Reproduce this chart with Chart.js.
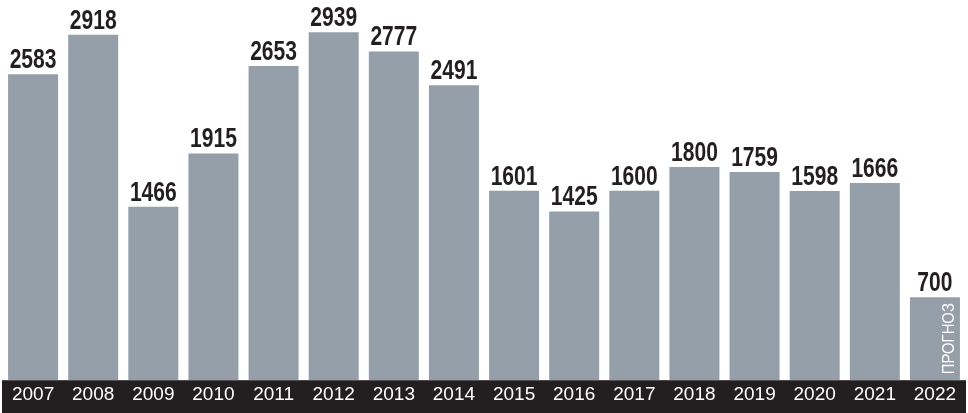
<!DOCTYPE html>
<html>
<head>
<meta charset="utf-8">
<script src="https://cdn.jsdelivr.net/npm/chart.js@4.4.0/dist/chart.umd.min.js"></script>
<style>
html,body{margin:0;padding:0;background:#fff;}
#wrap{width:968px;height:413px;position:relative;}
</style>
</head>
<body>
<div id="wrap"><canvas id="c" width="968" height="413"></canvas></div>
<script>
const years = ['2007','2008','2009','2010','2011','2012','2013','2014','2015','2016','2017','2018','2019','2020','2021','2022'];
const values = [2583,2918,1466,1915,2653,2939,2777,2491,1601,1425,1600,1800,1759,1598,1666,700];
const forecastNote = 'ПРОГНОЗ';

const BAR = '#949fa9';
const DARK = '#231f20';
const LABEL_FONT = 'bold 27px "Liberation Sans", Arial, sans-serif';
const LABEL_SQUEEZE = 0.78;

const decor = {
  id: 'decor',
  beforeDraw(chart) {
    const ctx = chart.ctx;
    const a = chart.chartArea;
    ctx.save();
    ctx.fillStyle = DARK;
    ctx.fillRect(2, a.bottom, chart.width - 4, chart.height - a.bottom);
    ctx.restore();
  },
  afterDatasetsDraw(chart) {
    const ctx = chart.ctx;
    const meta = chart.getDatasetMeta(0);
    meta.data.forEach((bar, i) => {
      ctx.save();
      ctx.translate(bar.x, bar.y - 6);
      ctx.scale(LABEL_SQUEEZE, 1);
      ctx.font = LABEL_FONT;
      ctx.fillStyle = DARK;
      ctx.textAlign = 'center';
      ctx.textBaseline = 'alphabetic';
      ctx.fillText(String(values[i]), 0, 0);
      ctx.restore();
    });
    // forecast note in last bar
    const last = meta.data[meta.data.length - 1];
    ctx.save();
    ctx.translate(last.x + 19, chart.chartArea.bottom - 6);
    ctx.rotate(-Math.PI / 2);
    ctx.scale(0.9, 1);
    ctx.font = '16.5px "Liberation Sans", Arial, sans-serif';
    ctx.fillStyle = '#ffffff';
    ctx.textAlign = 'left';
    ctx.textBaseline = 'alphabetic';
    ctx.fillText(forecastNote, 0, 0);
    ctx.restore();
  }
};

new Chart(document.getElementById('c'), {
  type: 'bar',
  data: {
    labels: years,
    datasets: [{
      data: values,
      backgroundColor: BAR,
      borderWidth: 0,
      barPercentage: 0.8315,
      categoryPercentage: 1.0
    }]
  },
  options: {
    responsive: false,
    animation: false,
    layout: { padding: { top: 25, left: 3, right: 3, bottom: 4 } },
    plugins: { legend: { display: false }, tooltip: { enabled: false } },
    scales: {
      x: {
        grid: { display: false, drawTicks: false },
        border: { display: false },
        ticks: {
          color: '#ffffff',
          font: { family: '"Liberation Sans", Arial, sans-serif', size: 19 },
          padding: 3,
          maxRotation: 0,
          autoSkip: false
        }
      },
      y: {
        display: false,
        min: 0,
        max: 3000
      }
    }
  },
  plugins: [decor]
});
</script>
</body>
</html>
